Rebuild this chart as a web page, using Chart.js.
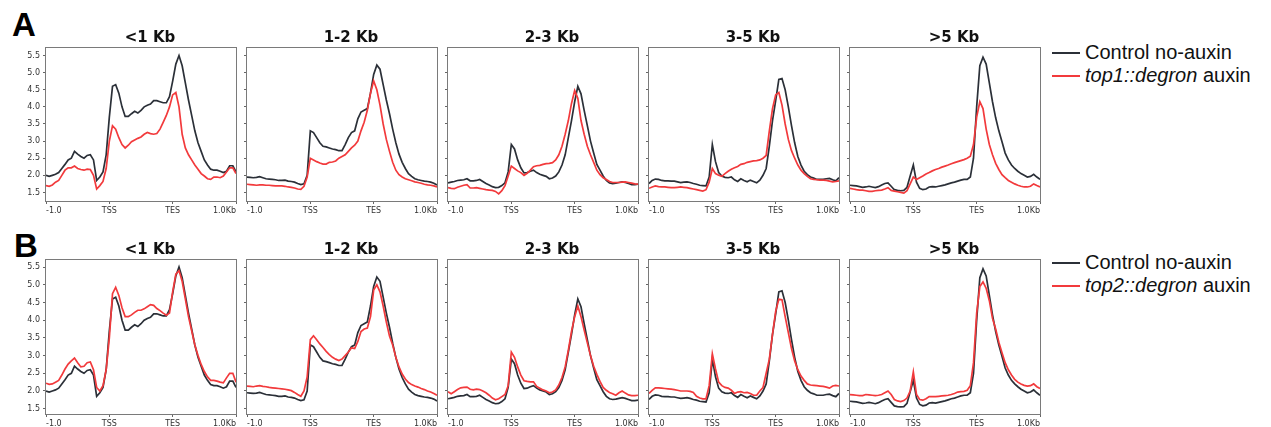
<!DOCTYPE html>
<html>
<head>
<meta charset="utf-8">
<script src="https://cdn.jsdelivr.net/npm/chart.js@4.4.1/dist/chart.umd.min.js"></script>
<style>
    body { margin: 0; background: #fff; }
    #fig { position: relative; width: 1271px; height: 427px; overflow: hidden; background: #fff; }
    #fig canvas { position: absolute; }
    .tag { position: absolute; font: bold 33px "Liberation Sans", Arial, sans-serif; line-height: 33px; color: #000; }
    .legend { position: absolute; font: 20px "Liberation Sans", Arial, sans-serif; color: #111; }
    .legend .item { height: 23px; line-height: 23px; white-space: nowrap; display: flex; align-items: center; }
    .legend .swatch { display: inline-block; width: 28px; height: 2px; margin-right: 5px; }
</style>
</head>
<body>
<div id="fig">
    <div class="tag" style="left:12px;top:8px">A</div>
    <div class="tag" style="left:14px;top:229px">B</div>
    <div class="legend" style="left:1052px;top:41px">
        <div class="item"><span class="swatch" style="background:#2b3038"></span>Control no-auxin</div>
        <div class="item"><span class="swatch" style="background:#f23a3c"></span><i>top1::degron</i>&nbsp;auxin</div>
    </div>
    <div class="legend" style="left:1052px;top:251px">
        <div class="item"><span class="swatch" style="background:#2b3038"></span>Control no-auxin</div>
        <div class="item"><span class="swatch" style="background:#f23a3c"></span><i>top2::degron</i>&nbsp;auxin</div>
    </div>
</div>
<script>
// Bin positions: 0 = -1.0 kb, 1 = TSS, 2 = TES (scaled body), 3 = +1.0 kb
const positions = [0,0.05,0.1,0.15,0.2,0.25,0.3,0.35,0.4,0.45,0.5,0.55,0.6,0.65,0.7,0.75,0.8,0.85,0.9,0.95,
    1,1.05,1.1,1.15,1.2,1.25,1.3,1.35,1.4,1.45,1.5,1.55,1.6,1.65,1.7,1.75,1.8,1.85,1.9,1.95,
    2,2.05,2.1,2.15,2.2,2.25,2.3,2.35,2.4,2.45,2.5,2.55,2.6,2.65,2.7,2.75,2.8,2.85,2.9,2.95,3];
const tickValues = [0, 1, 2, 3];
const tickLabels = ['-1.0', 'TSS', 'TES', '1.0Kb'];
const groupTitles = ['<1 Kb', '1-2 Kb', '2-3 Kb', '3-5 Kb', '>5 Kb'];

// Control no-auxin, per gene length group
const controlLt1 = [2.0,1.97,2.0,2.03,2.08,2.2,2.32,2.45,2.5,2.7,2.62,2.55,2.5,2.58,2.6,2.45,1.85,1.95,2.1,2.6,
    3.7,4.6,4.65,4.4,4.0,3.72,3.72,3.8,3.87,3.82,3.9,4.0,4.05,4.08,4.18,4.18,4.15,4.12,4.12,4.3,
    4.75,5.25,5.5,5.2,4.7,4.2,3.75,3.3,2.95,2.7,2.45,2.3,2.18,2.15,2.15,2.12,2.08,2.12,2.28,2.28,2.1];
const control1to2 = [1.95,1.94,1.93,1.94,1.96,1.93,1.9,1.89,1.88,1.87,1.85,1.85,1.86,1.83,1.82,1.8,1.76,1.73,1.75,2.0,
    3.3,3.25,3.1,2.95,2.85,2.83,2.8,2.77,2.75,2.72,2.72,2.9,3.1,3.25,3.3,3.65,3.85,3.9,3.95,4.4,
    4.95,5.22,5.1,4.65,4.2,3.8,3.35,2.95,2.62,2.38,2.2,2.05,1.97,1.9,1.87,1.85,1.83,1.82,1.8,1.77,1.72];
const control2to3 = [1.78,1.8,1.82,1.85,1.86,1.87,1.9,1.84,1.84,1.85,1.88,1.82,1.76,1.72,1.67,1.64,1.65,1.7,1.78,2.1,
    2.9,2.77,2.45,2.22,2.07,2.08,2.12,2.15,2.08,2.03,2.0,1.97,1.9,1.92,1.98,2.1,2.3,2.6,3.1,3.6,
    4.15,4.6,4.38,3.9,3.45,3.0,2.65,2.32,2.15,1.98,1.85,1.78,1.76,1.77,1.79,1.81,1.79,1.76,1.73,1.73,1.74];
const control3to5 = [1.76,1.85,1.89,1.88,1.85,1.84,1.84,1.83,1.83,1.81,1.79,1.8,1.81,1.79,1.76,1.74,1.71,1.7,1.69,1.95,
    2.9,2.4,2.08,1.98,1.94,1.93,1.95,1.87,1.82,1.9,1.85,1.81,1.86,1.82,1.78,1.86,2.0,2.2,2.85,3.6,
    4.18,4.8,4.83,4.5,4.0,3.45,2.95,2.55,2.3,2.12,2.02,1.95,1.92,1.88,1.88,1.88,1.9,1.91,1.87,1.84,1.93];
const controlGt5 = [1.71,1.7,1.69,1.67,1.65,1.66,1.68,1.66,1.64,1.67,1.72,1.76,1.78,1.68,1.58,1.56,1.55,1.56,1.65,1.98,
    2.3,1.8,1.62,1.58,1.6,1.66,1.67,1.66,1.68,1.7,1.72,1.75,1.78,1.8,1.83,1.86,1.88,1.88,1.95,2.5,
    4.0,5.2,5.45,5.25,4.7,4.15,3.68,3.3,2.98,2.65,2.45,2.3,2.2,2.12,2.05,2.0,1.95,1.97,2.03,1.95,1.88];

// top1::degron auxin
const top1Lt1 = [1.7,1.68,1.72,1.8,1.85,2.0,2.15,2.22,2.22,2.27,2.2,2.17,2.15,2.18,2.17,2.0,1.6,1.7,1.82,2.2,
    3.0,3.45,3.35,3.1,2.9,2.8,2.88,2.98,3.03,3.08,3.12,3.2,3.25,3.22,3.2,3.22,3.35,3.55,3.75,4.0,
    4.35,4.42,4.0,3.2,2.8,2.6,2.45,2.3,2.18,2.05,1.98,1.9,1.88,1.95,1.95,1.93,1.98,2.1,2.22,2.22,2.05];
const top1_1to2 = [1.74,1.73,1.72,1.71,1.72,1.72,1.71,1.71,1.7,1.69,1.69,1.69,1.68,1.66,1.65,1.63,1.6,1.59,1.68,1.95,
    2.5,2.45,2.4,2.36,2.33,2.33,2.38,2.39,2.42,2.5,2.55,2.6,2.7,2.8,2.88,3.0,3.3,3.55,3.9,4.4,
    4.76,4.5,4.05,3.5,3.05,2.7,2.38,2.15,2.02,1.95,1.9,1.87,1.84,1.81,1.79,1.77,1.74,1.72,1.71,1.69,1.66];
const top1_2to3 = [1.64,1.62,1.61,1.65,1.68,1.71,1.73,1.63,1.63,1.64,1.62,1.6,1.58,1.57,1.56,1.53,1.46,1.55,1.7,1.98,
    2.27,2.2,2.13,2.08,2.0,2.06,2.15,2.25,2.28,2.29,2.32,2.34,2.35,2.37,2.45,2.6,2.85,3.2,3.6,4.1,
    4.48,4.25,3.6,3.2,2.85,2.6,2.38,2.15,2.02,1.93,1.88,1.82,1.79,1.79,1.79,1.8,1.81,1.79,1.77,1.75,1.74];
const top1_3to5 = [1.62,1.66,1.69,1.67,1.66,1.66,1.65,1.64,1.64,1.65,1.66,1.65,1.64,1.62,1.6,1.58,1.56,1.54,1.58,1.8,
    2.2,2.05,2.0,1.97,2.05,2.12,2.18,2.22,2.26,2.32,2.34,2.38,2.4,2.42,2.43,2.45,2.5,2.58,3.3,3.95,
    4.35,4.42,4.05,3.5,3.05,2.72,2.5,2.3,2.15,2.05,1.97,1.9,1.88,1.87,1.86,1.86,1.85,1.83,1.81,1.82,1.84];
const top1Gt5 = [1.62,1.6,1.58,1.57,1.57,1.55,1.53,1.53,1.55,1.56,1.57,1.6,1.64,1.56,1.54,1.52,1.5,1.48,1.55,1.75,
    1.95,1.88,1.93,1.98,2.04,2.08,2.13,2.17,2.2,2.24,2.27,2.3,2.34,2.37,2.4,2.43,2.46,2.5,2.56,2.9,
    3.7,4.15,3.95,3.35,2.9,2.6,2.35,2.17,2.02,1.93,1.85,1.8,1.75,1.71,1.68,1.66,1.66,1.68,1.75,1.7,1.66];

// top2::degron auxin
const top2Lt1 = [2.22,2.19,2.2,2.25,2.3,2.45,2.62,2.76,2.85,2.93,2.8,2.68,2.7,2.8,2.82,2.6,2.1,2.0,2.15,2.6,
    3.5,4.75,4.93,4.7,4.35,4.1,4.1,4.15,4.22,4.28,4.28,4.32,4.38,4.44,4.42,4.33,4.27,4.2,4.14,4.2,
    4.8,5.3,5.4,5.1,4.6,4.1,3.7,3.3,3.0,2.75,2.55,2.4,2.3,2.3,2.28,2.25,2.23,2.37,2.5,2.5,2.25];
const top2_1to2 = [2.14,2.13,2.12,2.14,2.15,2.13,2.12,2.1,2.09,2.08,2.07,2.06,2.05,2.03,2.01,1.96,1.9,1.85,2.0,2.4,
    3.45,3.56,3.45,3.33,3.23,3.12,3.03,2.95,2.9,2.86,2.9,3.0,3.1,3.22,3.2,3.4,3.68,3.75,3.78,4.1,
    4.85,5.0,4.8,4.4,3.95,3.55,3.3,2.95,2.68,2.48,2.34,2.24,2.18,2.14,2.11,2.07,2.04,2.0,1.97,1.93,1.88];
const top2_2to3 = [1.98,1.92,1.98,2.04,2.09,2.1,2.11,2.05,2.03,2.05,2.04,2.0,1.95,1.88,1.8,1.75,1.78,1.84,1.9,2.15,
    3.1,2.95,2.68,2.45,2.29,2.27,2.26,2.26,2.13,2.08,2.03,2.0,1.95,1.97,2.03,2.17,2.38,2.68,3.15,3.68,
    4.1,4.4,4.1,3.72,3.36,3.0,2.7,2.47,2.27,2.1,2.02,1.96,1.92,1.88,1.95,2.0,1.94,1.89,1.87,1.87,1.88];
const top2_3to5 = [1.93,2.02,2.09,2.09,2.08,2.07,2.06,2.05,2.04,2.02,2.0,2.0,2.0,1.99,1.96,1.85,1.8,1.78,1.78,2.15,
    3.05,2.62,2.25,2.15,2.1,2.08,2.02,1.93,1.97,1.98,1.95,1.96,1.93,1.88,1.88,2.0,2.1,2.5,2.9,3.6,
    4.25,4.59,4.58,4.1,3.65,3.2,2.85,2.6,2.42,2.3,2.2,2.17,2.16,2.15,2.14,2.13,2.11,2.08,2.14,2.16,2.14];
const top2Gt5 = [1.9,1.89,1.88,1.87,1.87,1.9,1.89,1.88,1.87,1.88,1.9,1.95,2.0,1.9,1.76,1.72,1.7,1.73,1.8,2.0,
    2.54,1.9,1.76,1.74,1.78,1.84,1.84,1.84,1.85,1.86,1.87,1.88,1.9,1.93,1.97,1.98,1.99,2.02,2.15,2.8,
    4.2,4.95,5.08,4.9,4.55,4.05,3.75,3.38,3.08,2.8,2.6,2.45,2.33,2.25,2.2,2.16,2.14,2.15,2.2,2.12,2.07];

const controls = [controlLt1, control1to2, control2to3, control3to5, controlGt5];
const rows = [
    { top: 48, height: 153, yMin: 1.25, yMax: 5.72, treated: [top1Lt1, top1_1to2, top1_2to3, top1_3to5, top1Gt5] },
    { top: 260, height: 154, yMin: 1.35, yMax: 5.7, treated: [top2Lt1, top2_1to2, top2_2to3, top2_3to5, top2Gt5] }
];

const DARK = '#2b3038';
const RED = '#f23a3c';
const panelLefts = [46, 247, 448, 649, 850];
const PLOT_W = 190;
// empty right-hand box keeps the canvas-centred title a little right of the axes centre
const PAD_L = 40, PAD_R = 58, PAD_T = 30, PAD_B = 20;

Chart.defaults.font.family = '"DejaVu Sans", sans-serif';

// box around each plotting area (matplotlib style spines)
const framePlugin = {
    id: 'frame',
    afterDatasetsDraw(chart) {
        const a = chart.chartArea;
        const ctx = chart.ctx;
        ctx.save();
        ctx.strokeStyle = '#7a7a7a';
        ctx.lineWidth = 1;
        ctx.strokeRect(Math.round(a.left) - 0.5, Math.round(a.top) - 0.5,
            Math.round(a.right - a.left) + 1, Math.round(a.bottom - a.top) + 1);
        ctx.restore();
    }
};

function toPoints(values) {
    return values.map((v, i) => ({ x: positions[i], y: v }));
}

function makePanel(row, col) {
    const fig = document.getElementById('fig');
    const canvas = document.createElement('canvas');
    canvas.width = PAD_L + PLOT_W + PAD_R;
    canvas.height = PAD_T + row.height + PAD_B;
    canvas.style.left = (panelLefts[col] - PAD_L) + 'px';
    canvas.style.top = (row.top - PAD_T) + 'px';
    fig.appendChild(canvas);

    const line = { borderWidth: 1.7, pointRadius: 0, tension: 0, fill: false };

    new Chart(canvas, {
        type: 'line',
        data: {
            datasets: [
                Object.assign({ label: 'degron auxin', data: toPoints(row.treated[col]), borderColor: RED }, line),
                Object.assign({ label: 'Control no-auxin', data: toPoints(controls[col]), borderColor: DARK }, line)
            ]
        },
        options: {
            responsive: false,
            devicePixelRatio: 1,
            animation: false,
            events: [],
            layout: { padding: 0 },
            plugins: {
                legend: { display: false },
                tooltip: { enabled: false },
                title: {
                    display: true,
                    text: groupTitles[col],
                    color: '#111',
                    font: { family: '"DejaVu Sans", sans-serif', size: 15, weight: 'bold', lineHeight: 1.2 },
                    padding: { top: PAD_T - 19, bottom: 1 }
                }
            },
            scales: {
                x: {
                    type: 'linear',
                    min: 0,
                    max: 3,
                    afterBuildTicks: scale => { scale.ticks = tickValues.map(v => ({ value: v })); },
                    afterFit: scale => { scale.height = PAD_B; },
                    grid: { drawOnChartArea: false, drawTicks: true, tickLength: 3, color: '#666' },
                    border: { display: false },
                    ticks: {
                        align: 'inner',
                        maxRotation: 0,
                        padding: 2,
                        color: '#333',
                        font: { size: 8 },
                        callback: v => tickLabels[tickValues.indexOf(v)]
                    }
                },
                y: {
                    min: row.yMin,
                    max: row.yMax,
                    afterFit: scale => { scale.width = PAD_L; },
                    grid: { drawOnChartArea: false, drawTicks: true, tickLength: 3, color: '#666' },
                    border: { display: false },
                    ticks: {
                        display: col === 0,
                        stepSize: 0.5,
                        includeBounds: false,
                        padding: 3,
                        color: '#333',
                        font: { size: 8 },
                        callback: v => v.toFixed(1)
                    }
                },
                spacer: {
                    position: 'right',
                    min: 0,
                    max: 1,
                    afterFit: scale => { scale.width = PAD_R; },
                    grid: { display: false },
                    border: { display: false },
                    ticks: { display: false }
                }
            }
        },
        plugins: [framePlugin]
    });
}

rows.forEach(row => {
    for (let col = 0; col < groupTitles.length; col++) makePanel(row, col);
});
</script>
</body>
</html>
